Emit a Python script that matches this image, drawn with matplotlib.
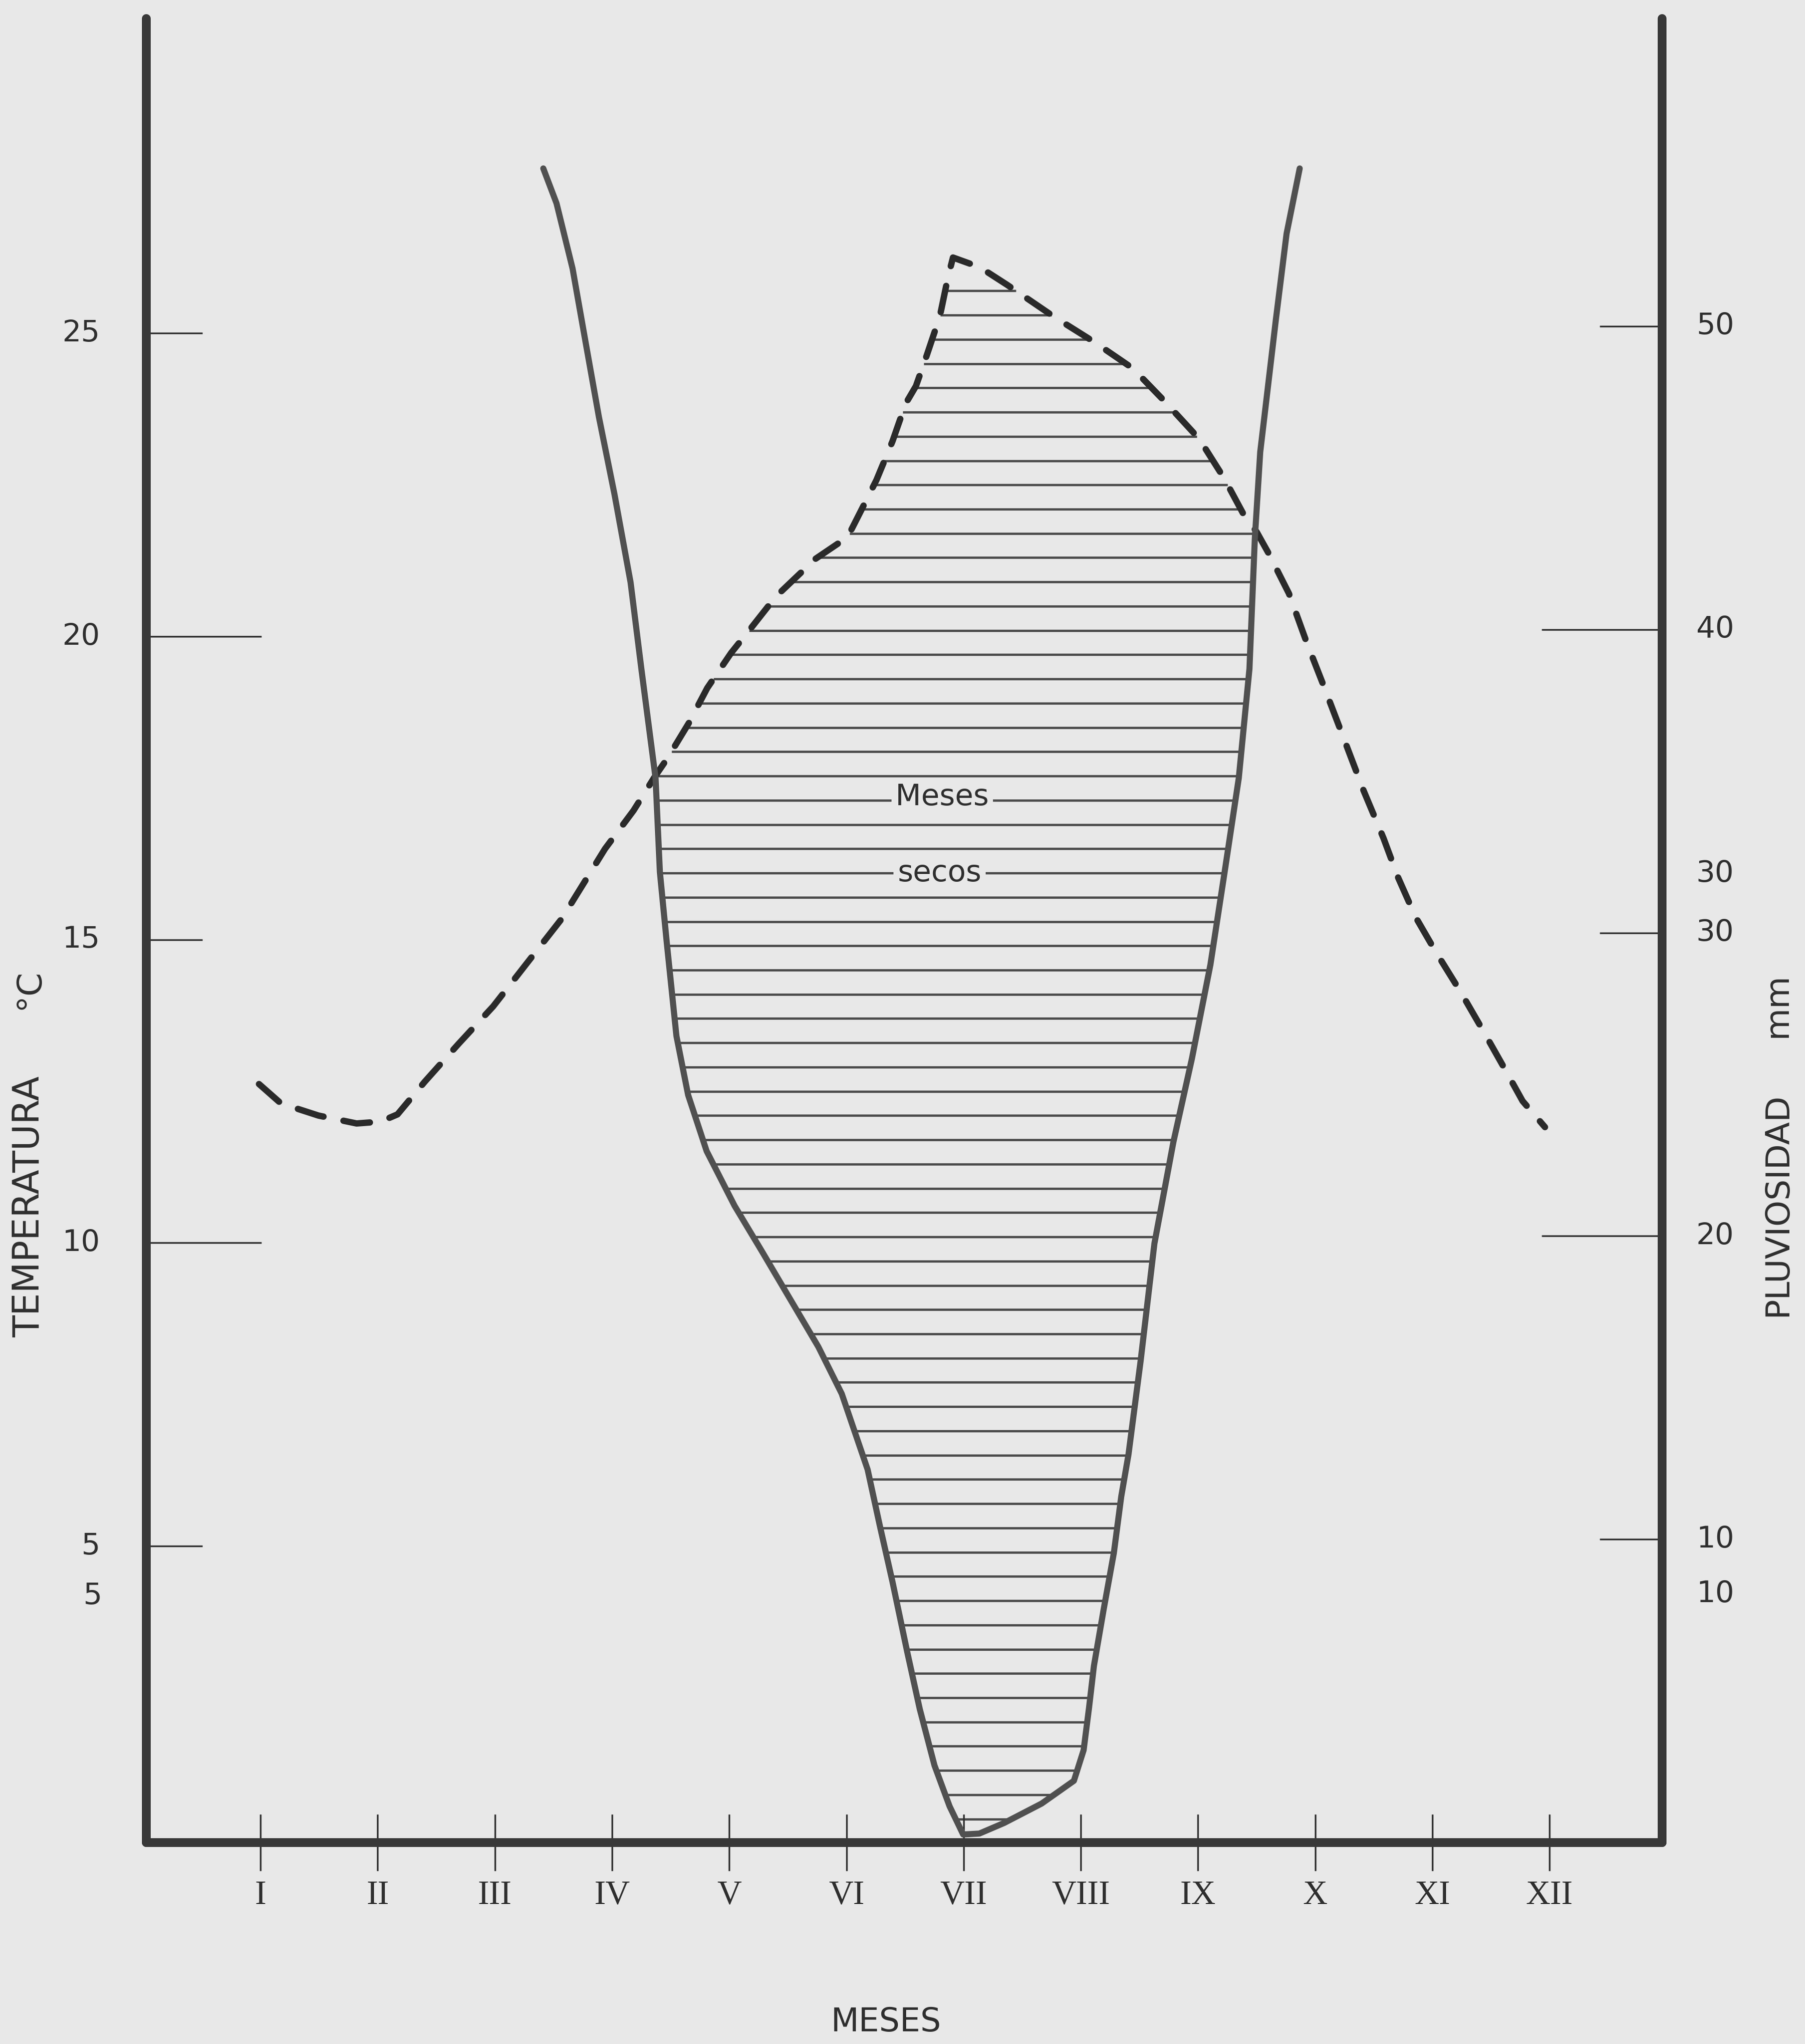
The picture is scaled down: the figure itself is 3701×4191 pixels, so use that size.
import numpy as np
import matplotlib
matplotlib.use('Agg')
import matplotlib.pyplot as plt

# meses del año (eje X)
months = ['I', 'II', 'III', 'IV', 'V', 'VI', 'VII', 'VIII', 'IX', 'X', 'XI', 'XII']
month_pos = np.arange(1, 13)

# escalas: temperatura a la izquierda, pluviosidad a la derecha
temp_ticks = [5, 10, 15, 20, 25]
rain_ticks = [10, 20, 30, 40, 50]

# curva de temperatura media (°C), trazo discontinuo
temp_m = [0.987, 1.175, 1.495, 1.820, 2.024, 2.169, 2.402, 2.693, 2.985, 3.276,
          3.572, 3.940, 4.183, 4.358, 4.475, 4.654, 4.812, 5.016, 5.194, 5.398,
          5.735, 6.010, 6.123, 6.256, 6.393, 6.505, 6.593, 6.684, 6.797, 6.867,
          6.909, 7.138, 7.371, 7.766, 8.120, 8.445, 8.715, 9.010, 9.223, 9.393,
          9.502, 9.606, 9.776, 9.926, 10.072, 10.242, 10.413, 10.584, 10.709,
          10.858, 11.029, 11.241, 11.433, 11.603, 11.770, 11.961]
temp_c = [12.62, 12.30, 12.10, 11.97, 12.00, 12.12, 12.66, 13.29, 13.90, 14.62,
          15.35, 16.50, 17.13, 17.67, 18.00, 18.57, 19.15, 19.73, 20.16, 20.66,
          21.28, 21.64, 22.07, 22.58, 23.22, 23.84, 24.13, 24.63, 25.28, 25.93,
          26.25, 26.09, 25.80, 25.28, 24.85, 24.42, 23.88, 23.26, 22.61, 22.00,
          21.72, 21.36, 20.71, 19.91, 19.19, 18.33, 17.46, 16.67, 16.02,
          15.37, 14.80, 14.14, 13.50, 12.92, 12.34, 11.91]

# curva de pluviosidad (mm), trazo continuo
rain_m = [3.413, 3.526, 3.663, 3.775, 3.888, 4.021, 4.158, 4.250, 4.371, 4.408,
          4.466, 4.549, 4.649, 4.807, 5.045, 5.286, 5.523, 5.760, 5.960, 6.181,
          6.285, 6.393, 6.518, 6.626, 6.751, 6.880, 6.996,
          7.134, 7.346, 7.666, 7.941, 8.024, 8.070, 8.112, 8.195, 8.282, 8.345,
          8.407, 8.511, 8.628, 8.790, 8.948, 9.106, 9.227, 9.348, 9.439, 9.485,
          9.531, 9.664, 9.756, 9.868]
rain_mm = [55.20, 54.05, 51.90, 49.45, 47.00, 44.45, 41.55, 38.70, 35.10, 32.00,
           29.70, 26.60, 24.65, 22.80, 21.00, 19.45, 17.90, 16.35, 14.80, 12.30,
           10.45, 8.60, 6.30, 4.40, 2.55, 1.20, 0.27,
           0.30, 0.65, 1.29, 2.04, 3.05, 4.44, 5.83, 7.69, 9.55, 11.41,
           12.80, 15.90, 19.75, 23.10, 25.85, 28.95, 32.00, 35.10, 38.70, 43.00,
           45.85, 50.20, 53.05, 55.20]

BG = '#e8e8e8'
INK = '#2e2e2e'
GREY = '#4a4a4a'

fig = plt.figure(figsize=(37.01, 41.91), dpi=100, facecolor=BG)
ax = fig.add_axes([0.0811, 0.0985, 0.8397, 0.8924], facecolor=BG)
ax2 = ax.twinx()

ax.set_xlim(0.026, 12.96)
ax.set_ylim(0.11, 30.19)
ax2.set_ylim(0, 60.14)

# ejes
for a in (ax, ax2):
    for s in a.spines.values():
        s.set_linewidth(13)
        s.set_color('#383838')
        s.set_capstyle('round')
        s.set_visible(False)
ax.spines['left'].set_visible(True)
ax.spines['bottom'].set_visible(True)
ax2.spines['right'].set_visible(True)

# marcas del eje de meses
ax.set_xticks(month_pos, months)
ax.tick_params(axis='x', direction='inout', length=83, width=2.5, color=INK,
               pad=14, labelsize=50, labelcolor=INK, labelfontfamily='Liberation Serif')

# marcas de temperatura y pluviosidad
ax.set_yticks([10, 20])
ax.set_yticks([5, 15, 25], minor=True)
ax.tick_params(axis='y', which='major', direction='in', length=170, width=2.5,
               color=INK, labelleft=False)
ax.tick_params(axis='y', which='minor', direction='in', length=83, width=2.5,
               color=INK)
ax2.set_yticks([20, 40])
ax2.set_yticks([10, 30, 50], minor=True)
ax2.tick_params(axis='y', which='major', direction='in', length=178, width=2.5,
                color=INK, labelright=False)
ax2.tick_params(axis='y', which='minor', direction='in', length=92, width=2.5,
                color=INK)

num = dict(fontsize=44, color=INK, va='center', family='DejaVu Sans')
ltr = ax.get_yaxis_transform()
rtr = ax2.get_yaxis_transform()
for v in temp_ticks:
    ax.text(-0.0306, v, str(v), transform=ltr, ha='right', **num)
for v in rain_ticks:
    ax2.text(1.0225, v, str(v), transform=rtr, ha='left', **num)
# rótulos repetidos
ax.annotate('5', xy=(-0.0306, 5), xycoords=ltr, xytext=(3, -74),
            textcoords='offset points', ha='right', **num)
ax2.annotate('30', xy=(1.0225, 30), xycoords=rtr, xytext=(0, 87),
             textcoords='offset points', ha='left', **num)
ax2.annotate('10', xy=(1.0225, 10), xycoords=rtr, xytext=(0, -81),
             textcoords='offset points', ha='left', **num)

# rayado horizontal de los meses secos
t = np.array(temp_c)
tm = np.array(temp_m)
top = t.argmax()
low = t[:top].argmin()
rise_c, rise_m = t[low:top + 1], tm[low:top + 1]
fall_c, fall_m = t[top:][::-1], tm[top:][::-1]

# pluviosidad pasada a la escala de temperatura
pix = ax2.transData.transform(np.column_stack([rain_m, rain_mm]))
r = ax.transData.inverted().transform(pix)[:, 1]
rm = np.array(rain_m)
dry = r.argmin()
lb_c, lb_m = r[:dry + 1][::-1], rm[:dry + 1][::-1]
rb_c, rb_m = r[dry:], rm[dry:]

levels = np.arange(0.5, 25.9, 0.4)
left = np.maximum(np.interp(levels, lb_c, lb_m),
                  np.interp(levels, rise_c, rise_m, left=-np.inf))
right = np.minimum(np.interp(levels, rb_c, rb_m),
                   np.interp(levels, fall_c, fall_m, left=np.inf))
ok = (levels < t.max()) & (right > left)
ax.hlines(levels[ok], left[ok], right[ok], color=GREY, lw=3.4, zorder=1)

# curvas
ax.plot(temp_m, temp_c, color='#2a2a2a', lw=9.4, dashes=(4.2, 3.2),
        dash_capstyle='round', solid_joinstyle='round', zorder=3)
ax2.plot(rain_m, rain_mm, color='#505050', lw=9, solid_capstyle='round',
         solid_joinstyle='round', zorder=3)

box = dict(facecolor=BG, edgecolor='none', pad=6)
ax.text(6.817, 17.35, 'Meses', fontsize=44, color=INK, ha='center', va='center',
        bbox=box, zorder=4)
ax.text(6.796, 16.1, 'secos', fontsize=44, color=INK, ha='center', va='center',
        bbox=box, zorder=4)

# títulos de los ejes
lab = dict(color=INK, family='DejaVu Sans', rotation=90, ha='center', va='center')
fig.text(0.0162, 0.4097, 'TEMPERATURA', fontsize=53, **lab)
fig.text(0.0162, 0.5159, '°C', fontsize=50, **lab)
fig.text(0.9846, 0.4106, 'PLUVIOSIDAD', fontsize=49, **lab)
fig.text(0.9846, 0.5084, 'mm', fontsize=49, **lab)
fig.text(0.4909, 0.0107, 'MESES', fontsize=48, color=INK, family='DejaVu Sans',
         ha='center', va='center')

fig.savefig('out.png', dpi=100, facecolor=BG)
plt.close('all')
